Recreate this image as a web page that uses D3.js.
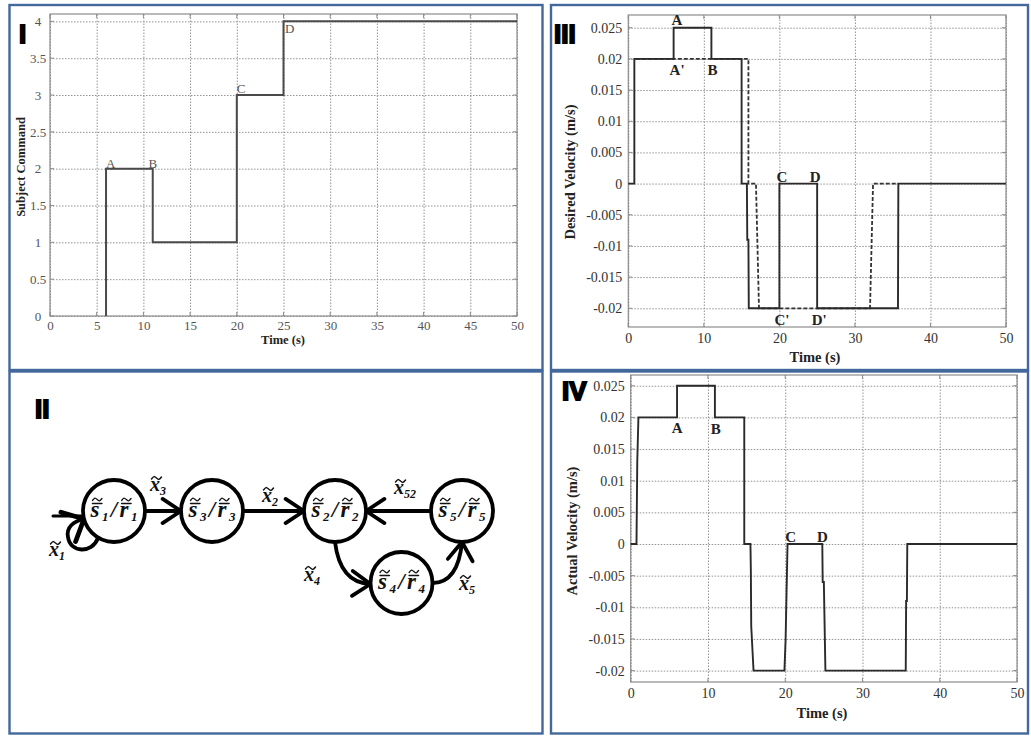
<!DOCTYPE html>
<html>
<head>
<meta charset="utf-8">
<script src="https://cdnjs.cloudflare.com/ajax/libs/d3/7.8.5/d3.min.js"></script>
<style>
  html, body { margin: 0; padding: 0; background: #fff; }
  svg { display: block; }
</style>
</head>
<body>
<svg id="fig" width="1031" height="737"></svg>
<script>
// ---------- Panel I: subject command (step sequence) ----------
const subjTime = [6, 6, 11, 11, 20, 20, 25, 25, 50];
const subjCmd  = [0, 2, 2, 1, 1, 3, 3, 4, 4];
const subjXTicks = [0, 5, 10, 15, 20, 25, 30, 35, 40, 45, 50];
const subjYTicks = [0, 0.5, 1, 1.5, 2, 2.5, 3, 3.5, 4];
const subjMarkText = ["A", "B", "C", "D"];
const subjMarkTime = [6, 11, 20, 25];
const subjMarkCmd  = [2, 2, 3, 4];

// ---------- Panel III: desired velocity ----------
const desiredTime = [0, 0.8, 0.8, 6, 6, 11, 11, 15, 15, 15.7, 15.75, 15.9, 15.95, 20, 20, 25, 25, 35.7, 35.75, 50];
const desiredVel  = [0, 0, 0.02, 0.02, 0.025, 0.025, 0.02, 0.02, 0, 0, -0.009, -0.009, -0.02, -0.02, 0, 0, -0.02, -0.02, 0, 0];
// dashed variant (without the A-B / C-D commands)
const altTime = [1, 15.9, 15.9, 16.9, 17.3, 32.0, 32.4, 35.7];
const altVel  = [0.02, 0.02, 0, 0, -0.02, -0.02, 0, 0];
const velXTicks = [0, 10, 20, 30, 40, 50];
const velYTicks = [-0.02, -0.015, -0.01, -0.005, 0, 0.005, 0.01, 0.015, 0.02, 0.025];
const desiredMarkText = ["A", "A'", "B", "C", "D", "C'", "D'"];
const desiredMarkTime = [6, 6, 11, 20, 25, 20, 25];
const desiredMarkVel  = [0.025, 0.02, 0.02, 0, 0, -0.02, -0.02];

// ---------- Panel IV: actual velocity ----------
const actualTime = [0, 0.75, 0.85, 1.0, 6, 6, 10.9, 10.9, 14.7, 14.7, 15.5, 15.55, 15.6, 15.9, 19.9, 20.05, 20.2, 20.3, 24.8, 24.85, 25.0, 25.2, 35.6, 35.65, 35.75, 35.8, 50];
const actualVel  = [0, 0, 0.013, 0.02, 0.02, 0.025, 0.025, 0.02, 0.02, 0, 0, -0.004, -0.013, -0.02, -0.02, -0.015, -0.006, 0, 0, -0.006, -0.006, -0.02, -0.02, -0.009, -0.009, 0, 0];
const actualMarkText = ["A", "B", "C", "D"];
const actualMarkTime = [6, 11, 20, 25];
const actualMarkVel  = [0.02, 0.02, 0, 0];

// ---------- Panel II: state transition diagram ----------
const stateIds  = ["1", "3", "2", "5", "4"];
const edgeFrom  = ["1", "1", "3", "5", "2", "4"];
const edgeTo    = ["1", "3", "2", "2", "4", "5"];
const edgeSub   = ["1", "3", "2", "52", "4", "5"];

const svg = d3.select("#fig");
const SERIF = "'Liberation Serif', 'Times New Roman', serif";
const BORDER = "#43689b";

// panel frames
const frames = [
  [9.5, 5, 542.5, 370],
  [9.5, 371.5, 542.5, 733.5],
  [551, 5, 1028, 370],
  [551, 371.5, 1028, 733.5]
];
svg.append("g").selectAll("rect").data(frames).join("rect")
  .attr("x", d => d[0]).attr("y", d => d[1])
  .attr("width", d => d[2] - d[0]).attr("height", d => d[3] - d[1])
  .attr("fill", "none").attr("stroke", BORDER).attr("stroke-width", 2.4);

// panel numerals
const numerals = [["I", 19, 43], ["II", 35, 418], ["III", 554, 43], ["IV", 562, 400]];
svg.append("g").selectAll("text").data(numerals).join("text")
  .attr("x", d => d[1]).attr("y", d => d[2])
  .attr("font-family", "'Liberation Sans', Arial, sans-serif")
  .attr("font-weight", "bold").attr("font-size", 26)
  .attr("fill", "#000").attr("stroke", "#000").attr("stroke-width", 1.8)
  .text(d => d[0]);

function zipPts(xs, ys) { return xs.map((t, i) => [t, ys[i]]); }

function drawPlot(cfg) {
  const g = svg.append("g");
  const x = d3.scaleLinear().domain(cfg.xDomain).range([cfg.left, cfg.right]);
  const y = d3.scaleLinear().domain(cfg.yDomain).range([cfg.bottom, cfg.top]);
  const w = cfg.right - cfg.left, h = cfg.bottom - cfg.top;

  // dotted grid
  const gx = g.append("g").attr("transform", `translate(0,${cfg.bottom})`)
    .call(d3.axisBottom(x).tickValues(cfg.xTicks).tickSize(-h).tickFormat(""));
  const gy = g.append("g").attr("transform", `translate(${cfg.left},0)`)
    .call(d3.axisLeft(y).tickValues(cfg.yTicks).tickSize(-w).tickFormat(""));
  [gx, gy].forEach(a => {
    a.select(".domain").remove();
    a.selectAll("line").attr("stroke", "#939393").attr("stroke-width", 1)
      .attr("stroke-dasharray", "1.5,1.5");
  });

  // inward tick marks on all four sides
  const tk = 4;
  const tg = g.append("g").attr("stroke", "#8c8c8c").attr("stroke-width", 1);
  cfg.xTicks.forEach(t => {
    tg.append("line").attr("x1", x(t)).attr("x2", x(t)).attr("y1", cfg.bottom).attr("y2", cfg.bottom - tk);
    tg.append("line").attr("x1", x(t)).attr("x2", x(t)).attr("y1", cfg.top).attr("y2", cfg.top + tk);
  });
  cfg.yTicks.forEach(v => {
    tg.append("line").attr("y1", y(v)).attr("y2", y(v)).attr("x1", cfg.left).attr("x2", cfg.left + tk);
    tg.append("line").attr("y1", y(v)).attr("y2", y(v)).attr("x1", cfg.right).attr("x2", cfg.right - tk);
  });

  // axes box
  g.append("rect").attr("x", cfg.left).attr("y", cfg.top).attr("width", w).attr("height", h)
    .attr("fill", "none").attr("stroke", "#8c8c8c").attr("stroke-width", 1.2);

  // tick labels
  const lx = g.append("g").attr("transform", `translate(0,${cfg.bottom})`)
    .call(d3.axisBottom(x).tickValues(cfg.xTicks).tickSize(0).tickPadding(cfg.xPad).tickFormat(d => String(d)));
  const ly = g.append("g").attr("transform", `translate(${cfg.left},0)`)
    .call(d3.axisLeft(y).tickValues(cfg.yTicks).tickSize(0).tickPadding(cfg.yPad).tickFormat(d => String(d)));
  [lx, ly].forEach(a => {
    a.select(".domain").remove();
    a.selectAll("text").attr("font-family", SERIF).attr("font-size", cfg.tickSize)
      .attr("fill", cfg.tickColor);
  });
  if (cfg.yCenter) ly.selectAll("text").attr("text-anchor", "middle");

  // axis titles
  g.append("text").attr("x", cfg.xTitle[0]).attr("y", cfg.xTitle[1])
    .attr("text-anchor", "middle").attr("font-family", SERIF).attr("font-weight", "bold")
    .attr("font-size", cfg.titleSize).attr("fill", "#222").text("Time (s)");
  g.append("text")
    .attr("transform", `translate(${cfg.yTitle[0]},${cfg.yTitle[1]}) rotate(-90)`)
    .attr("text-anchor", "middle").attr("font-family", SERIF).attr("font-weight", "bold")
    .attr("font-size", cfg.titleSize).attr("fill", "#222").text(cfg.yLabel);

  const line = d3.line().x(d => x(d[0])).y(d => y(d[1]));
  return { g, x, y, line };
}

// ---- Panel I ----
const p1 = drawPlot({
  left: 50, right: 517, top: 14, bottom: 316,
  xDomain: [0, 50], yDomain: [0, 4.1],
  xTicks: subjXTicks, yTicks: subjYTicks,
  xPad: 5, yPad: 12, yCenter: true, tickSize: 13, tickColor: "#555",
  titleSize: 12.5, xTitle: [283, 344], yTitle: [24.5, 167], yLabel: "Subject Command"
});
p1.g.append("path").datum(zipPts(subjTime, subjCmd)).attr("d", p1.line)
  .attr("fill", "none").attr("stroke", "#4a4a4a").attr("stroke-width", 2);
const subjMarkPlace = [["start", 0, -1], ["middle", 0, -1], ["start", 0, -2], ["start", 1.5, 12]];
p1.g.append("g").selectAll("text").data(subjMarkText).join("text")
  .attr("x", (d, i) => p1.x(subjMarkTime[i]) + subjMarkPlace[i][1])
  .attr("y", (d, i) => p1.y(subjMarkCmd[i]) + subjMarkPlace[i][2])
  .attr("text-anchor", (d, i) => subjMarkPlace[i][0])
  .attr("font-family", SERIF).attr("font-size", 13).attr("fill", "#555").text(d => d);

// ---- Panel III ----
const p3 = drawPlot({
  left: 628.3, right: 1006, top: 15, bottom: 327,
  xDomain: [0, 50], yDomain: [-0.023, 0.02704],
  xTicks: velXTicks, yTicks: velYTicks,
  xPad: 6, yPad: 6, yCenter: false, tickSize: 14, tickColor: "#333",
  titleSize: 14.5, xTitle: [815, 362], yTitle: [575, 172], yLabel: "Desired Velocity (m/s)"
});
p3.g.append("path").datum(zipPts(altTime, altVel)).attr("d", p3.line)
  .attr("fill", "none").attr("stroke", "#333").attr("stroke-width", 1.8)
  .attr("stroke-dasharray", "4,2");
p3.g.append("path").datum(zipPts(desiredTime, desiredVel)).attr("d", p3.line)
  .attr("fill", "none").attr("stroke", "#2a2a2a").attr("stroke-width", 1.9);
const desiredMarkPlace = [["start", -2, -3], ["start", -4, 16], ["start", -4, 16], ["start", -3, -2],
                          ["middle", -2, -2], ["start", -5, 17], ["start", -5.5, 17]];
p3.g.append("g").selectAll("text").data(desiredMarkText).join("text")
  .attr("x", (d, i) => p3.x(desiredMarkTime[i]) + desiredMarkPlace[i][1])
  .attr("y", (d, i) => p3.y(desiredMarkVel[i]) + desiredMarkPlace[i][2])
  .attr("text-anchor", (d, i) => desiredMarkPlace[i][0])
  .attr("font-family", SERIF).attr("font-weight", "bold").attr("font-size", 15)
  .attr("fill", "#222").text(d => d);

// ---- Panel IV ----
const p4 = drawPlot({
  left: 630.7, right: 1017, top: 375, bottom: 682,
  xDomain: [0, 50], yDomain: [-0.0218, 0.0267],
  xTicks: velXTicks, yTicks: velYTicks,
  xPad: 6, yPad: 6, yCenter: false, tickSize: 14, tickColor: "#333",
  titleSize: 14.5, xTitle: [822, 718], yTitle: [577, 531], yLabel: "Actual Velocity (m/s)"
});
p4.g.append("path").datum(zipPts(actualTime, actualVel)).attr("d", p4.line)
  .attr("fill", "none").attr("stroke", "#2a2a2a").attr("stroke-width", 1.9);
const actualMarkPlace = [["middle", 0, 16], ["middle", 0, 17], ["start", 0, -2], ["middle", -1.5, -2]];
p4.g.append("g").selectAll("text").data(actualMarkText).join("text")
  .attr("x", (d, i) => p4.x(actualMarkTime[i]) + actualMarkPlace[i][1])
  .attr("y", (d, i) => p4.y(actualMarkVel[i]) + actualMarkPlace[i][2])
  .attr("text-anchor", (d, i) => actualMarkPlace[i][0])
  .attr("font-family", SERIF).attr("font-weight", "bold").attr("font-size", 15)
  .attr("fill", "#222").text(d => d);

// ---- Panel II: diagram ----
const statePos = { "1": [114, 511], "3": [212, 511], "2": [335, 511], "5": [462, 511], "4": [401.5, 583] };
const R = 31;
const dg = svg.append("g").attr("stroke", "#000").attr("fill", "none")
  .attr("stroke-width", 3.8).attr("stroke-linecap", "round").attr("stroke-linejoin", "round");

function chevron(tip, ang, len, half) {
  // open arrowhead with its point at tip, pointing along ang (radians)
  const a1 = ang + Math.PI - half, a2 = ang + Math.PI + half;
  return `M${tip[0] + len * Math.cos(a1)},${tip[1] + len * Math.sin(a1)}L${tip[0]},${tip[1]}L${tip[0] + len * Math.cos(a2)},${tip[1] + len * Math.sin(a2)}`;
}

const labelPos = { "1": [57, 556], "3": [158, 491], "2": [270, 502], "52": [405, 494], "4": [312, 581], "5": [467, 590] };
edgeFrom.forEach((f, i) => {
  const t = edgeTo[i];
  const A = statePos[f], B = statePos[t];
  let d, tip, ang;
  if (f === t) {
    // self transition: small loop on the lower left of the state
    const s = [A[0] - 16, A[1] + 27];
    tip = [A[0] - 30, A[1] + 8];
    d = `M${s[0]},${s[1]}C${s[0] - 6},${s[1] + 16} ${A[0] - 44},${A[1] + 42} ${A[0] - 46},${A[1] + 26}C${A[0] - 48},${A[1] + 16} ${A[0] - 40},${A[1] + 10} ${tip[0]},${tip[1]}`;
    ang = Math.atan2(-5, 10);
    dg.append("path").attr("d", d);
    dg.append("path").attr("d", chevron(tip, ang, 24, 0.75)).attr("stroke-width", 4.8);
    dg.append("path").attr("d", `M${A[0] - 61},${A[1] + 5}L${tip[0] - 2},${A[1] + 5}`).attr("stroke-width", 3);
  } else if (A[1] === B[1]) {
    const dir = Math.sign(B[0] - A[0]);
    const s = [A[0] + dir * R, A[1]];
    tip = [B[0] - dir * R, B[1]];
    d = `M${s[0]},${s[1]}L${tip[0]},${tip[1]}`;
    ang = dir > 0 ? 0 : Math.PI;
    dg.append("path").attr("d", d);
    dg.append("path").attr("d", chevron(tip, ang, 22, 0.58));
  } else if (B[1] > A[1]) {
    const s = [A[0], A[1] + R];
    tip = [B[0] - R, B[1] + 1];
    const c = [A[0] + 5, B[1]];
    d = `M${s[0]},${s[1]}Q${c[0]},${c[1]} ${tip[0]},${tip[1]}`;
    ang = Math.atan2(tip[1] - c[1], tip[0] - c[0]);
    dg.append("path").attr("d", d);
    dg.append("path").attr("d", chevron(tip, ang, 22, 0.6));
  } else {
    const s = [A[0] + R, A[1]];
    tip = [B[0], B[1] + R];
    const c = [B[0] - 4, A[1]];
    d = `M${s[0]},${s[1]}Q${c[0]},${c[1]} ${tip[0]},${tip[1]}`;
    ang = Math.atan2(tip[1] - c[1], tip[0] - c[0]);
    dg.append("path").attr("d", d);
    dg.append("path").attr("d", chevron(tip, ang, 22, 0.6));
  }
});

// state circles
svg.append("g").selectAll("circle").data(stateIds).join("circle")
  .attr("cx", d => statePos[d][0]).attr("cy", d => statePos[d][1]).attr("r", R)
  .attr("fill", "#fff").attr("stroke", "#000").attr("stroke-width", 3.8);

// small tilde glyph drawn as a path
function tildePath(x0, y0, w) {
  const q = w / 4;
  return `M${x0},${y0 + 1}C${x0 + q},${y0 - 2} ${x0 + q},${y0 - 2} ${x0 + 2 * q},${y0}S${x0 + 3 * q},${y0 + 2} ${x0 + w},${y0 - 1}`;
}
const accents = svg.append("g").attr("fill", "none").attr("stroke", "#111").attr("stroke-linecap", "round");

// state labels  s/r with bar and tilde accents and subscripts
const stLab = svg.append("g").selectAll("text").data(stateIds).join("text")
  .attr("x", d => statePos[d][0]).attr("y", d => statePos[d][1] + 6)
  .attr("text-anchor", "middle").attr("font-family", SERIF)
  .attr("font-style", "italic").attr("font-weight", "bold").attr("font-size", 23).attr("fill", "#111")
  .attr("textLength", 47).attr("lengthAdjust", "spacing");
stLab.append("tspan").text("s");
stLab.append("tspan").attr("dy", 4).attr("font-size", 13).text(d => d);
stLab.append("tspan").attr("dy", -4).text("/r");
stLab.append("tspan").attr("dy", 4).attr("font-size", 13).text(d => d);
stLab.each(function () {
  const node = this;
  [0, 3].forEach(ci => {
    const a = node.getStartPositionOfChar(ci), b = node.getEndPositionOfChar(ci);
    const x0 = a.x + 2, x1 = b.x + 2.5;
    accents.append("line").attr("x1", x0).attr("x2", x1)
      .attr("y1", a.y - 13.5).attr("y2", a.y - 13.5).attr("stroke-width", 1.5);
    accents.append("path").attr("d", tildePath(x0, a.y - 17.5, x1 - x0)).attr("stroke-width", 1.3);
  });
});

// transition labels  x with tilde and subscripts
const edLab = svg.append("g").selectAll("text").data(edgeSub).join("text")
  .attr("x", d => labelPos[d][0]).attr("y", d => labelPos[d][1])
  .attr("text-anchor", "middle").attr("font-family", SERIF)
  .attr("font-style", "italic").attr("font-weight", "bold").attr("font-size", 20).attr("fill", "#111");
edLab.append("tspan").text("x");
edLab.append("tspan").attr("dy", 4).attr("font-size", 12).text(d => d);
edLab.each(function () {
  const a = this.getStartPositionOfChar(0), b = this.getEndPositionOfChar(0);
  accents.append("path").attr("d", tildePath(a.x + 1.5, a.y - 13, b.x - a.x)).attr("stroke-width", 1.5);
});
</script>
</body>
</html>
